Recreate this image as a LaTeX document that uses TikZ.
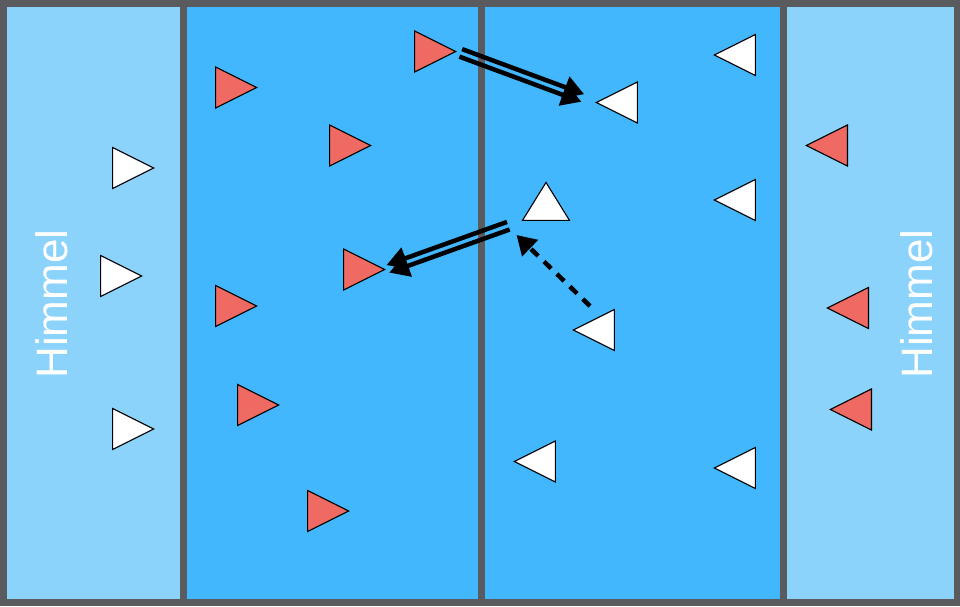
\documentclass[tikz,border=0pt]{standalone}
\usepackage{fontspec}
\setmainfont{Liberation Sans}
\usepackage{xcolor}
\usetikzlibrary{shapes.geometric,arrows.meta,calc}

\definecolor{rimgray}{HTML}{5A5B5F}
\definecolor{skyblue}{HTML}{8BD3FA}
\definecolor{fieldblue}{HTML}{42B7FD}
\definecolor{teamred}{HTML}{EE6A62}

\tikzset{
  player/.style={isosceles triangle, isosceles triangle stretches, inner sep=0pt,
    minimum width=41pt, minimum height=41pt, draw=black, line width=1.1pt, anchor=apex},
  redR/.style={player, fill=teamred, shape border rotate=0},
  redL/.style={player, fill=teamred, shape border rotate=180},
  whiteR/.style={player, fill=white, shape border rotate=0},
  whiteL/.style={player, fill=white, shape border rotate=180},
  sky label/.style={text=white, rotate=90, font=\fontsize{44}{44}\selectfont},
  pass/.style={line width=4.5pt, -{Triangle[length=20pt,width=22pt]}},
  run/.style={line width=4.5pt, dash pattern=on 10pt off 8pt, -{Triangle[length=19pt,width=22pt]}}
}

\begin{document}
\begin{tikzpicture}[x=1pt,y=-1pt]
        \useasboundingbox (0,0) rectangle (960,606);

        % field
        \fill[rimgray] (0,0) rectangle (960,606);
        \fill[skyblue] (7,7) rectangle (180,599);
        \fill[fieldblue] (187,7) rectangle (478,599);
        \fill[fieldblue] (485,7) rectangle (780,599);
        \fill[skyblue] (787,7) rectangle (954,599);

        \node[sky label] (himmelL) at (52,304) {Himmel};
        \node[sky label] (himmelR) at (917,304) {Himmel};

        % white team (placed at the apex)
        \node[whiteR] (w1) at (155,168) {};
        \node[whiteR] (w2) at (143,276) {};
        \node[whiteR] (w3) at (155,429) {};
        \node[whiteL] (w4) at (713,55) {};
        \node[whiteL] (w5) at (595,102.5) {};
        \node[whiteL] (w6) at (713,200) {};
        \node[player, fill=white, shape border rotate=90, minimum width=47pt, minimum height=38pt] (w7) at (546,181) {};
        \node[whiteL] (w8) at (572,330) {};
        \node[whiteL] (w9) at (513,461.5) {};
        \node[whiteL] (w10) at (713,468) {};

        % red team (placed at the apex)
        \node[redR] (r1) at (258,87.5) {};
        \node[redR] (r2) at (372,145.5) {};
        \node[redR] (r3) at (457,51.5) {};
        \node[redR] (r4) at (386,269.5) {};
        \node[redR] (r5) at (258,306) {};
        \node[redR] (r6) at (280,405) {};
        \node[redR] (r7) at (350,511) {};
        \node[redL] (r8) at (805,145.5) {};
        \node[redL] (r9) at (826,308) {};
        \node[redL] (r10) at (829,409.5) {};

        % passes
        \draw[pass, shorten <=4pt, shorten >=13pt] ($(r3.apex)!4pt!90:(w5.apex)$) -- ($(w5.apex)!4pt!-90:(r3.apex)$);
        \draw[pass, shorten <=4pt, shorten >=13pt] ($(r3.apex)!4pt!-90:(w5.apex)$) -- ($(w5.apex)!4pt!90:(r3.apex)$);
        \draw[pass, shorten <=14pt, shorten >=2pt] ($(w7.left corner)!4pt!90:(r4.apex)$) -- ($(r4.apex)!4pt!-90:(w7.left corner)$);
        \draw[pass, shorten <=14pt, shorten >=2pt] ($(w7.left corner)!4pt!-90:(r4.apex)$) -- ($(r4.apex)!4pt!90:(w7.left corner)$);

        % run
        \coordinate (runA) at ([shift={(18,-24)}]w8.apex);
        \coordinate (runB) at ([shift={(-5,14)}]w7.left corner);
        \draw[run] (runA) -- (runB);
\end{tikzpicture}
\end{document}
